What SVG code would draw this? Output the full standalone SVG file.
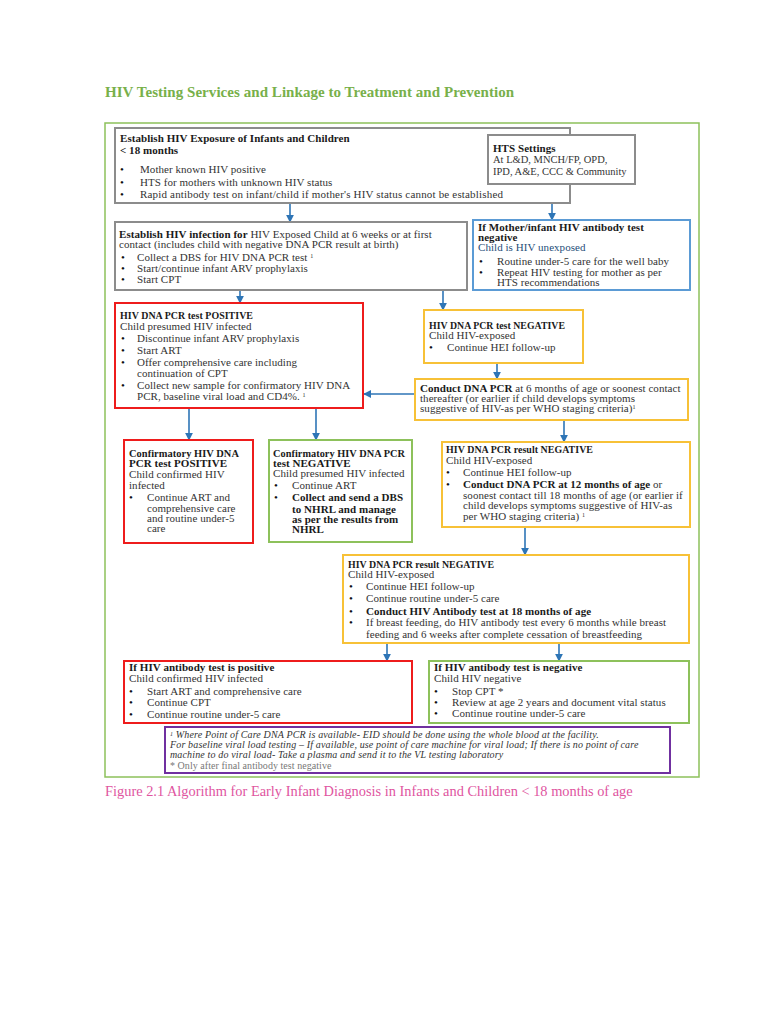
<svg xmlns="http://www.w3.org/2000/svg" width="768" height="1024" viewBox="0 0 768 1024">
<defs>
<style>
text{font-family:"Liberation Serif","Times New Roman",serif;font-size:11px;letter-spacing:0.05px;fill:#333}
.b{font-weight:bold;fill:#1a1a1a}
.d{font-size:11px;fill:#111}
.box{fill:#fff;stroke-width:2}
.gray{stroke:#8c8c8c}
.blue{stroke:#5b9bd5}
.red{stroke:#ee1c1c}
.yel{stroke:#f7c137}
.grn{stroke:#8dc15b}
.pur{stroke:#7030a0}
.con line{stroke:#2e75b6;stroke-width:1.6;marker-end:url(#ah)}
.fn{font-size:10px;font-style:italic;letter-spacing:0.15px;fill:#333}
</style>
<marker id="ah" viewBox="0 0 10 10" refX="9" refY="5" markerWidth="8" markerHeight="8" markerUnits="userSpaceOnUse" orient="auto">
<path d="M0,0 L10,5 L0,10 z" fill="#2e75b6"/>
</marker>
</defs>
<rect width="768" height="1024" fill="#fff"/>
<text x="105" y="97" style="font-size:15px;font-weight:bold;fill:#78b04a;letter-spacing:0.05px">HIV Testing Services and Linkage to Treatment and Prevention</text>
<rect x="105" y="123" width="594" height="654" fill="none" stroke="#8dc15b" stroke-width="1.5"/>

<g class="con">
<line x1="290" y1="203" x2="290" y2="222"/>
<line x1="552" y1="203" x2="552" y2="220"/>
<line x1="240" y1="290" x2="240" y2="303"/>
<line x1="443" y1="290" x2="443" y2="310"/>
<line x1="497" y1="363" x2="497" y2="379"/>
<line x1="415" y1="394" x2="364" y2="394"/>
<line x1="564" y1="420" x2="564" y2="442"/>
<line x1="189" y1="408" x2="189" y2="440"/>
<line x1="316" y1="408" x2="316" y2="440"/>
<line x1="525" y1="527" x2="525" y2="555"/>
<line x1="387" y1="643" x2="387" y2="661"/>
<line x1="559" y1="643" x2="559" y2="661"/>
</g>

<g id="exposure">
<rect class="box gray" x="115" y="128" width="455" height="75"/>
<text class="b" x="120" y="142">Establish HIV Exposure of Infants and Children</text>
<text class="b" x="120" y="154">&lt; 18 months</text>
<text class="d" x="120" y="173">•</text><text x="140" y="173">Mother known HIV positive</text>
<text class="d" x="120" y="186">•</text><text x="140" y="186">HTS for mothers with unknown HIV status</text>
<text class="d" x="120" y="198">•</text><text x="140" y="198" textLength="363" lengthAdjust="spacing">Rapid antibody test on infant/child if mother's HIV status cannot be established</text>
</g>

<g id="hts">
<rect class="box gray" x="488" y="135" width="147" height="49"/>
<text class="b" x="493" y="152">HTS Settings</text>
<text x="493" y="163" style="font-size:10.5px;letter-spacing:0">At L&amp;D, MNCH/FP, OPD,</text>
<text x="493" y="175" style="font-size:10.5px;letter-spacing:0">IPD, A&amp;E, CCC &amp; Community</text>
</g>

<g id="infection">
<rect class="box gray" x="115" y="222" width="352" height="68"/>
<text x="119" y="238"><tspan class="b">Establish HIV infection for</tspan> HIV Exposed Child at 6 weeks or at first</text>
<text x="119" y="248">contact (includes child with negative DNA PCR result at birth)</text>
<text class="d" x="121" y="261">•</text><text x="137" y="261">Collect a DBS for HIV DNA PCR test <tspan dy="-3" font-size="6">1</tspan></text>
<text class="d" x="121" y="272">•</text><text x="137" y="272">Start/continue infant ARV prophylaxis</text>
<text class="d" x="121" y="283">•</text><text x="137" y="283">Start CPT</text>
</g>

<g id="unexposed">
<rect class="box blue" x="473" y="220" width="217" height="70"/>
<text class="b" x="478" y="231">If Mother/infant HIV antibody test</text>
<text class="b" x="478" y="241">negative</text>
<text x="478" y="251" style="fill:#1f4e79">Child is HIV unexposed</text>
<text class="d" x="479" y="265">•</text><text x="497" y="265">Routine under-5 care for the well baby</text>
<text class="d" x="479" y="276">•</text><text x="497" y="276">Repeat HIV testing for mother as per</text>
<text x="497" y="286">HTS recommendations</text>
</g>

<g id="pcr-positive">
<rect class="box red" x="115" y="303" width="248" height="105"/>
<text class="b" x="120" y="319" textLength="133" lengthAdjust="spacingAndGlyphs">HIV DNA PCR test POSITIVE</text>
<text x="120" y="330">Child presumed HIV infected</text>
<text class="d" x="121" y="342">•</text><text x="137" y="342">Discontinue infant ARV prophylaxis</text>
<text class="d" x="121" y="354">•</text><text x="137" y="354">Start ART</text>
<text class="d" x="121" y="366">•</text><text x="137" y="366">Offer comprehensive care including</text>
<text x="137" y="377">continuation of CPT</text>
<text class="d" x="121" y="389">•</text><text x="137" y="389">Collect new sample for confirmatory HIV DNA</text>
<text x="137" y="400">PCR, baseline viral load and CD4%. <tspan dy="-3" font-size="6">1</tspan></text>
</g>

<g id="pcr-negative">
<rect class="box yel" x="424" y="310" width="159" height="53"/>
<text class="b" x="429" y="329" textLength="136" lengthAdjust="spacingAndGlyphs">HIV DNA PCR test NEGATIVE</text>
<text x="429" y="339">Child HIV-exposed</text>
<text class="d" x="429" y="351">•</text><text x="447" y="351">Continue HEI follow-up</text>
</g>

<g id="pcr-6months">
<rect class="box yel" x="415" y="379" width="273" height="41"/>
<text x="420" y="392"><tspan class="b">Conduct DNA PCR</tspan> at 6 months of age or soonest contact</text>
<text x="420" y="402">thereafter (or earlier if child develops symptoms</text>
<text x="420" y="412">suggestive of HIV-as per WHO staging criteria)<tspan dy="-3" font-size="6">1</tspan></text>
</g>

<g id="confirm-positive">
<rect class="box red" x="124" y="440" width="129" height="103"/>
<text class="b" x="129" y="457" textLength="110" lengthAdjust="spacingAndGlyphs">Confirmatory HIV DNA</text>
<text class="b" x="129" y="467">PCR test POSITIVE</text>
<text x="129" y="478">Child confirmed HIV</text>
<text x="129" y="489">infected</text>
<text class="d" x="129" y="501">•</text><text x="147" y="501">Continue ART and</text>
<text x="147" y="512">comprehensive care</text>
<text x="147" y="522">and routine under-5</text>
<text x="147" y="532">care</text>
</g>

<g id="confirm-negative">
<rect class="box grn" x="269" y="440" width="143" height="102"/>
<text class="b" x="273" y="457" textLength="132" lengthAdjust="spacingAndGlyphs">Confirmatory HIV DNA PCR</text>
<text class="b" x="273" y="467">test NEGATIVE</text>
<text x="273" y="477">Child presumed HIV infected</text>
<text class="d" x="274" y="489">•</text><text x="292" y="489">Continue ART</text>
<text class="d" x="274" y="501">•</text><text class="b" x="292" y="501">Collect and send a DBS</text>
<text class="b" x="292" y="513">to NHRL and manage</text>
<text class="b" x="292" y="523">as per the results from</text>
<text class="b" x="292" y="533">NHRL</text>
</g>

<g id="result-negative-12">
<rect class="box yel" x="442" y="442" width="248" height="85"/>
<text class="b" x="446" y="453" textLength="147" lengthAdjust="spacingAndGlyphs">HIV DNA PCR result NEGATIVE</text>
<text x="446" y="464">Child HIV-exposed</text>
<text class="d" x="446" y="476">•</text><text x="463" y="476">Continue HEI follow-up</text>
<text class="d" x="446" y="488">•</text><text x="463" y="488"><tspan class="b">Conduct DNA PCR at 12 months of age</tspan> or</text>
<text x="463" y="499">soonest contact till 18 months of age (or earlier if</text>
<text x="463" y="509">child develops symptoms suggestive of HIV-as</text>
<text x="463" y="520">per WHO staging criteria) <tspan dy="-3" font-size="6">1</tspan></text>
</g>

<g id="result-negative-18">
<rect class="box yel" x="343" y="555" width="346" height="88"/>
<text class="b" x="348" y="568" textLength="146" lengthAdjust="spacingAndGlyphs">HIV DNA PCR result NEGATIVE</text>
<text x="348" y="578">Child HIV-exposed</text>
<text class="d" x="349" y="590">•</text><text x="366" y="590">Continue HEI follow-up</text>
<text class="d" x="349" y="602">•</text><text x="366" y="602">Continue routine under-5 care</text>
<text class="d" x="349" y="615">•</text><text class="b" x="366" y="615">Conduct HIV Antibody test at 18 months of age</text>
<text class="d" x="349" y="626">•</text><text x="366" y="626">If breast feeding, do HIV antibody test every 6 months while breast</text>
<text x="366" y="638">feeding and 6 weeks after complete cessation of breastfeeding</text>
</g>

<g id="antibody-positive">
<rect class="box red" x="124" y="661" width="288" height="62"/>
<text class="b" x="129" y="671">If HIV antibody test is positive</text>
<text x="129" y="682">Child confirmed HIV infected</text>
<text class="d" x="129" y="695">•</text><text x="147" y="695">Start ART and comprehensive care</text>
<text class="d" x="129" y="706">•</text><text x="147" y="706">Continue CPT</text>
<text class="d" x="129" y="718">•</text><text x="147" y="718">Continue routine under-5 care</text>
</g>

<g id="antibody-negative">
<rect class="box grn" x="429" y="661" width="260" height="62"/>
<text class="b" x="434" y="671">If HIV antibody test is negative</text>
<text x="434" y="682">Child HIV negative</text>
<text class="d" x="434" y="695">•</text><text x="452" y="695">Stop CPT *</text>
<text class="d" x="434" y="706">•</text><text x="452" y="706">Review at age 2 years and document vital status</text>
<text class="d" x="434" y="717">•</text><text x="452" y="717">Continue routine under-5 care</text>
</g>

<g id="footnotes">
<rect class="box pur" x="165" y="727" width="505" height="46"/>
<text class="fn" x="170" y="738"><tspan dy="-2" font-size="6">1</tspan><tspan dy="2"> Where Point of Care DNA PCR is available- EID should be done using the whole blood at the facility.</tspan></text>
<text class="fn" x="170" y="748">For baseline viral load testing – If available, use point of care machine for viral load; If there is no point of care</text>
<text class="fn" x="170" y="758">machine to do viral load- Take a plasma and send it to the VL testing laboratory</text>
<text x="170" y="769" style="font-size:10px;fill:#777">* Only after final antibody test negative</text>
</g>

<text x="105" y="796" style="font-size:14.4px;fill:#e0559f;letter-spacing:0">Figure 2.1 Algorithm for Early Infant Diagnosis in Infants and Children &lt; 18 months of age</text>
</svg>
